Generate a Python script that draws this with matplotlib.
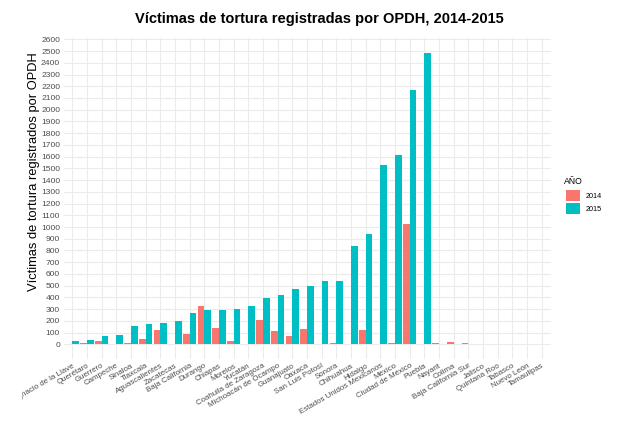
import matplotlib
matplotlib.use("Agg")
import matplotlib.pyplot as plt
import numpy as np
from matplotlib.patches import Patch
from matplotlib.transforms import Bbox

plt.rcParams['font.family'] = ['Liberation Sans', 'DejaVu Sans']

estados = ["Veracruz de Ignacio de la Llave", "Querétaro", "Guerrero", "Campeche", "Sinaloa",
           "Tlaxcala", "Aguascalientes", "Zacatecas", "Baja California", "Durango",
           "Chiapas", "Morelos", "Yucatán", "Coahuila de Zaragoza", "Michoacán de Ocampo",
           "Guanajuato", "Oaxaca", "San Luis Potosí", "Sonora", "Chihuahua",
           "Hidalgo", "Estados Unidos Mexicanos", "México", "Ciudad de México", "Puebla",
           "Nayarit", "Colima", "Baja California Sur", "Jalisco", "Quintana Roo",
           "Tabasco", "Nuevo León", "Tamaulipas"]
v2014 = [3, 11, 31, 5, 14, 45, 122, 3, 88, 330,
         138, 26, 0, 205, 113, 68, 134, 0, 11, 0,
         119, 0, 12, 1022, 3, 15, 18, 13, 0, 0,
         0, 0, 0]
v2015 = [26, 34, 69, 80, 157, 177, 186, 197, 267, 292,
         292, 304, 326, 392, 418, 475, 494, 542, 542, 838,
         943, 1530, 1612, 2168, 2483, 0, 0, 0, 0, 0,
         0, 0, 0]
anios = ["2014", "2015"]
colores = ["#F8766D", "#00BFC4"]
yticks = list(range(0, 2601, 100))

W, H = 618, 423
fig = plt.figure(figsize=(W / 100, H / 100), dpi=100)
ax = fig.add_axes([63.5 / W, 1 - 358.9 / H, 487 / W, 320.4 / H])

x = np.arange(len(estados))
w = 0.45
ax.bar(x - w / 2, v2014, width=w, color=colores[0], zorder=2)
ax.bar(x + w / 2, v2015, width=w, color=colores[1], zorder=2)

ax.set_xlim(-0.6, len(estados) - 1 + 0.6)
ymax = max(v2015)
ax.set_ylim(-0.05 * ymax, ymax * 1.05)
ax.set_yticks(yticks)
ax.set_yticklabels([str(t) for t in yticks], fontsize=6.1, color="#4D4D4D")
ax.set_xticks(x)
ax.set_xticklabels(estados, rotation=30, ha="right", va="top", rotation_mode="anchor",
                   fontsize=5.7, color="#4D4D4D")
ax.tick_params(axis="both", length=0, pad=2.5)
ax.grid(True, color="#EBEBEB", linewidth=0.8, zorder=0)
ax.set_axisbelow(True)
for s in ax.spines.values():
    s.set_visible(False)

fig.text(34 / W, 1 - 172 / H, "Víctimas de tortura registrados por OPDH",
         rotation=90, ha="center", va="center", fontsize=9.3)
fig.text(0.516, 0.955, "Víctimas de tortura registradas por OPDH, 2014-2015",
         ha="center", va="center", fontsize=10.5, fontweight="bold")

fig.text(564 / W, 1 - 181 / H, "AÑO", ha="left", va="center", fontsize=6.2)
handles = [Patch(facecolor=c, edgecolor="none") for c in colores]
leg = fig.legend(handles, anios, loc="upper left",
                 bbox_to_anchor=(566 / W, 1 - 190.5 / H), frameon=False, fontsize=5.2,
                 handlelength=1.95, handleheight=1.95, handletextpad=0.8,
                 labelspacing=0.2, borderaxespad=0, borderpad=0)

fig.canvas.draw()
lab0 = ax.xaxis.get_major_ticks()[0].label1
lab0.set_clip_box(Bbox.from_extents(22, 0, W, H))
lab0.set_clip_on(True)

fig.savefig("out.png", dpi=100)
